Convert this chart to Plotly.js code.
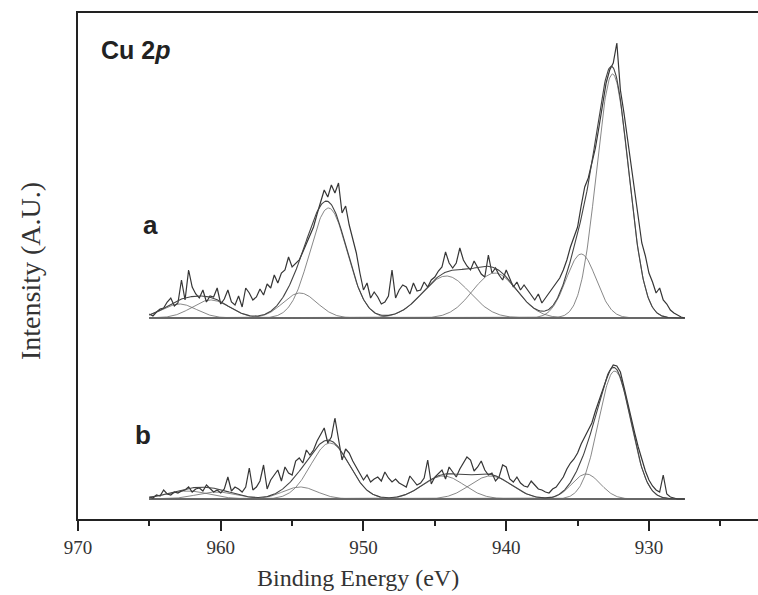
<!DOCTYPE html>
<html><head><meta charset="utf-8">
<script src="https://cdn.plot.ly/plotly-3.0.1.min.js"></script>
<style>html,body{margin:0;padding:0;background:#fff}#chart{width:758px;height:595px}</style>
</head><body><div id="chart"></div>
<script>
// Binding-energy grid of the measured spectra (eV), high to low
const energyStart = 965.0;
const energyStep = 0.25;

// Measured Cu 2p spectrum a (counts above its own baseline, arbitrary units)
const spectrumA = [
 4,2,6,9,10,16,20,12,15,38,18,48,31,24,20,28,16,22,21,30,
 14,19,28,16,13,22,11,30,25,18,21,29,23,34,30,43,35,45,48,61,
 51,55,58,66,75,82,91,104,115,128,121,133,125,135,105,112,93,80,65,45,
 28,35,20,26,21,14,16,22,48,20,28,33,31,24,35,27,28,36,31,38,
 41,47,51,66,55,50,55,70,58,52,48,57,51,44,41,63,45,50,43,38,
 48,40,31,36,28,33,28,22,18,24,15,20,25,29,35,40,48,58,71,80,
 91,112,131,140,155,170,191,214,235,248,255,275,228,205,178,152,128,100,75,62,
 45,36,25,30,18,14,8,5,3,1,0
];
// Measured Cu 2p spectrum b
const spectrumB = [
 2,1,4,3,9,5,4,7,6,8,9,12,7,10,11,8,14,10,7,9,
 6,10,22,8,12,10,7,12,31,9,12,18,34,10,19,24,29,18,32,26,
 24,38,41,36,49,44,49,58,64,71,56,62,81,58,39,50,46,38,32,26,
 19,24,17,20,22,18,27,21,17,20,16,14,12,23,19,14,16,21,39,15,
 22,26,29,20,32,27,22,30,36,42,39,28,32,38,29,24,26,18,22,34,
 32,20,17,22,16,13,12,18,14,10,9,7,6,10,12,17,22,30,36,40,
 46,55,62,68,76,88,99,110,119,128,134,133,127,112,96,82,66,52,39,28,
 19,13,9,7,24,5,2,1,0,0,0
];

// Vertical offsets of the two stacked spectra
const offsetA = 201;
const offsetB = 20;

// Fitted components (peak centre eV, height, Gaussian sigma eV)
const centersA = [932.55, 934.75, 944.2, 940.8, 952.45, 954.45, 962.9, 960.7];
const heightsA = [244, 64, 42, 45, 110, 25, 14, 18];
const sigmasA  = [1.12, 1.05, 1.65, 1.55, 1.3, 1.2, 1.2, 1.3];

const centersB = [932.4, 934.4, 944.4, 941.1, 952.35, 954.45, 962.3, 960.3];
const heightsB = [128, 25, 23, 23, 56, 12, 8, 7];
const sigmasB  = [1.13, 1.0, 1.45, 1.45, 1.35, 1.2, 1.5, 1.4];

const xTickVals = [970, 960, 950, 940, 930];
const xTickText = ['970', '960', '950', '940', '930'];
const xMinorVals = [965, 955, 945, 935, 925];

const dataColor = '#363636';
const fitColor = '#6a6a6a';

function energies(n){ const e=[]; for(let i=0;i<n;i++) e.push(+(energyStart - i*energyStep).toFixed(3)); return e; }
const fitX = []; for (let e = 965.0; e >= 927.49; e -= 0.05) fitX.push(+e.toFixed(3));

function gauss(c,h,s){ return fitX.map(x => h*Math.exp(-((x-c)*(x-c))/(2*s*s))); }

const traces = [];
function addSpectrum(vals, off, cs, hs, ss){
  const ex = energies(vals.length);
  const comps = cs.map((c,i)=>gauss(c,hs[i],ss[i]));
  traces.push({x:[ex[0], ex[ex.length-1]], y:[off, off], mode:'lines', line:{color:'#333', width:1.4}, hoverinfo:'skip'});
  comps.forEach(cv => traces.push({x:fitX, y:cv.map(v=>v+off), mode:'lines', line:{color:fitColor, width:0.8}, hoverinfo:'skip'}));
  traces.push({x:ex, y:vals.map(v=>v+off), mode:'lines', line:{color:dataColor, width:1.2}, hoverinfo:'skip'});
  const env = fitX.map((_,j)=>comps.reduce((s,cv)=>s+cv[j],0)+off);
  traces.push({x:fitX, y:env, mode:'lines', line:{color:'#444', width:1.1}, hoverinfo:'skip'});
}
addSpectrum(spectrumA, offsetA, centersA, heightsA, sigmasA);
addSpectrum(spectrumB, offsetB, centersB, heightsB, sigmasB);

const serif = 'Liberation Serif, Times New Roman, serif';
const sans = 'Liberation Sans, Arial, sans-serif';

const layout = {
  width: 758, height: 595,
  margin: {l: 78, r: 0, t: 13, b: 76},
  paper_bgcolor: '#fff', plot_bgcolor: '#fff',
  showlegend: false,
  xaxis: {
    range: [970, 922.36], showline: true, linecolor: '#222', linewidth: 2, mirror: true,
    ticks: 'outside', ticklen: 10, tickwidth: 2, tickcolor: '#222',
    tickvals: xTickVals, ticktext: xTickText,
    tickfont: {family: serif, size: 19, color: '#333'},
    minor: {tickvals: xMinorVals, ticks: 'outside', ticklen: 5, tickwidth: 2, tickcolor: '#222', showgrid: false},
    showgrid: false, zeroline: false
  },
  yaxis: {
    range: [0, 506], showline: true, linecolor: '#222', linewidth: 2,
    ticks: '', showticklabels: false, showgrid: false, zeroline: false
  },
  annotations: [
    {text: '<b>Cu 2<i>p</i></b>', xref: 'paper', yref: 'paper', x: 0.031, y: 0.927, xanchor: 'left', yanchor: 'middle', showarrow: false, font: {family: sans, size: 25, color: '#222'}},
    {text: '<b>a</b>', xref: 'paper', yref: 'paper', x: 0.092, y: 0.581, xanchor: 'left', yanchor: 'middle', showarrow: false, font: {family: sans, size: 26, color: '#222'}},
    {text: '<b>b</b>', xref: 'paper', yref: 'paper', x: 0.081, y: 0.166, xanchor: 'left', yanchor: 'middle', showarrow: false, font: {family: sans, size: 26, color: '#222'}},
    {text: 'Binding Energy (eV)', xref: 'paper', yref: 'paper', x: 0.412, y: -0.1166, xanchor: 'center', yanchor: 'middle', showarrow: false, font: {family: serif, size: 24, color: '#333'}},
    {text: 'Intensity (A.U.)', xref: 'paper', yref: 'paper', x: -0.0706, y: 0.49, xanchor: 'center', yanchor: 'middle', textangle: -90, showarrow: false, font: {family: serif, size: 28, color: '#333'}}
  ]
};

Plotly.newPlot('chart', traces, layout, {displayModeBar: false, staticPlot: true});
</script></body></html>
